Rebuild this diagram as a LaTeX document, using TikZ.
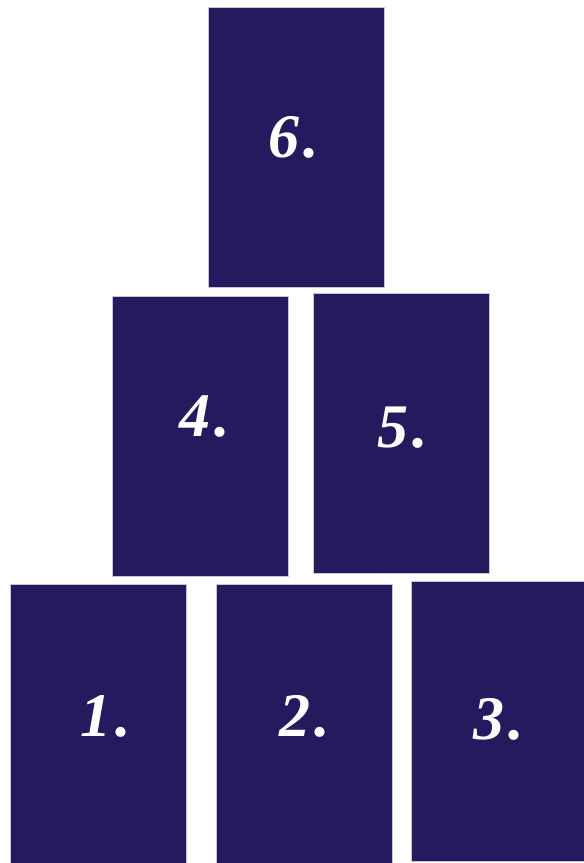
\documentclass[tikz,border=0pt]{standalone}
\usepackage{fontspec}
\setmainfont{Liberation Serif}
\usepackage{xcolor}
\usetikzlibrary{positioning}
\definecolor{cardblue}{HTML}{241A5E}
\definecolor{cardrim}{HTML}{C8C4D8}
\tikzset{
  card/.style={rectangle, fill=cardblue, draw=cardrim, line width=1pt,
    minimum width=176pt, minimum height=280pt, inner sep=0pt,
    text=white, font=\fontsize{62}{62}\selectfont\bfseries\itshape},
  spread/.style={x=1pt, y=-1pt}
}
% number with a little gap before the dot, nudged by #1 (right) and #2 (up)
\newcommand{\cardnum}[3]{\hspace*{#1}\raisebox{#2}{#3\kern4pt.}}
\begin{document}
\begin{tikzpicture}[spread]
  \useasboundingbox (0,0) rectangle (584,863);
  % top
  \node[card] (c6) at (296,147) {\cardnum{-4pt}{20pt}{6}};
  % middle row
  \node[card] (c4) at (200,436) {\cardnum{10pt}{40pt}{4}};
  \node[card] (c5) at (401,433) {\cardnum{4pt}{12pt}{5}};
  % bottom row
  \node[card] (c1) at (98,724) {\cardnum{16pt}{16pt}{1}};
  \node[card] (c2) at (304.5,724) {\cardnum{0pt}{16pt}{2}};
  \node[card] (c3) at (499,721) {\cardnum{0pt}{4pt}{3}};
\end{tikzpicture}
\end{document}
